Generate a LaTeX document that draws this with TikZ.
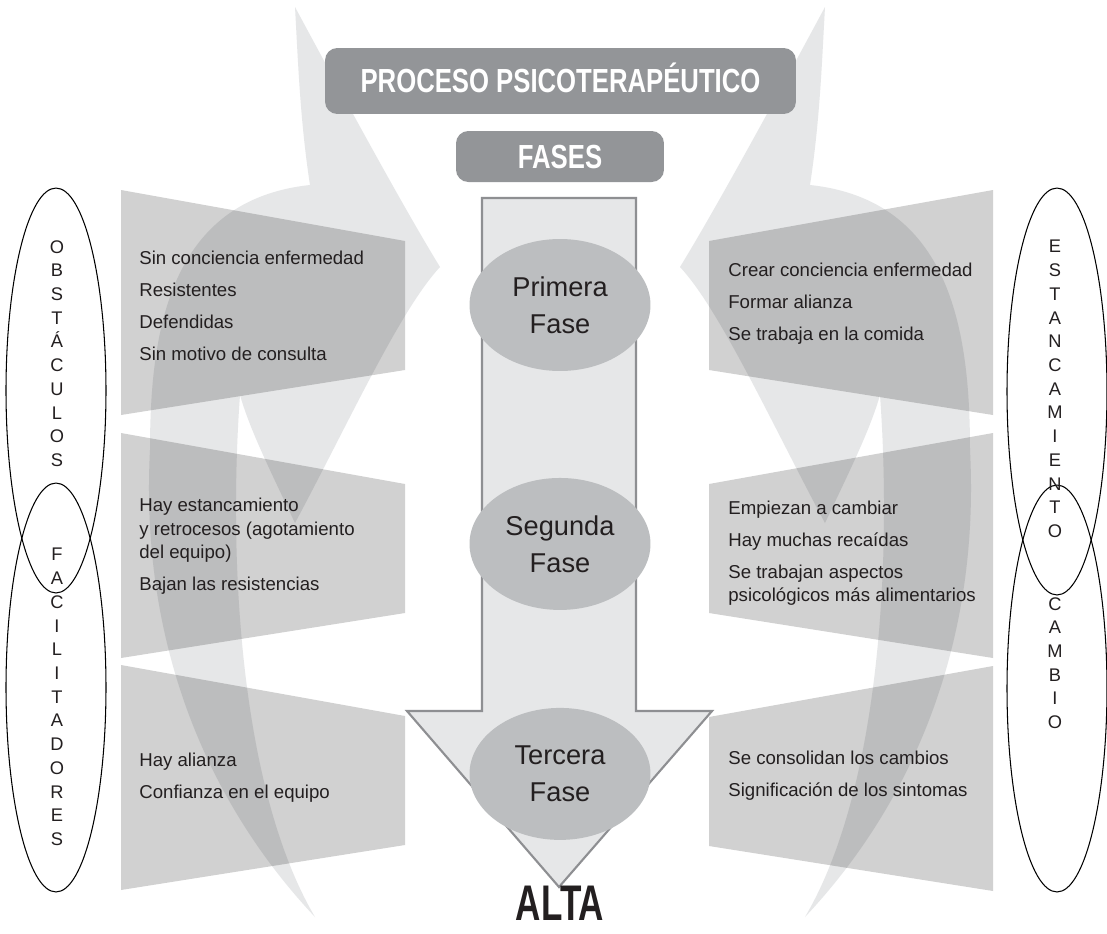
\documentclass[tikz,border=0pt]{standalone}
\usepackage{fontspec}
\setmainfont{Liberation Sans}
\newfontfamily\headfont[FakeStretch=0.77]{Liberation Sans}
\newfontfamily\altafont[FakeStretch=0.7]{Liberation Sans}
\usetikzlibrary{shapes.geometric,positioning}

\definecolor{boxgray}{HTML}{939598}
\definecolor{shaftfill}{HTML}{E6E7E8}
\definecolor{shaftline}{HTML}{8E8F92}
\definecolor{phasegray}{HTML}{BCBEC0}
\definecolor{swoosh}{HTML}{E6E7E8}
\definecolor{ink}{HTML}{231F20}

\tikzset{
  titlebox/.style={fill=boxgray, rounded corners=7pt, text=white, inner sep=0pt,
    font=\headfont\bfseries\fontsize{19}{20}\selectfont, text height=13.6pt, text depth=0pt},
  phase/.style={ellipse, fill=phasegray, minimum width=3.62cm, minimum height=2.64cm,
    inner sep=0pt, align=center, text=ink, font=\fontsize{15.5}{21}\selectfont},
  panel/.style={fill=black, fill opacity=0.18},
  paneltext/.style={anchor=north west, align=left, inner sep=0pt, text=ink,
    font=\fontsize{10.6}{13.3}\selectfont},
  sideoval/.style={ellipse, draw=black, line width=0.6pt, minimum width=2cm, inner sep=0pt},
  letters/.style={anchor=north, align=center, inner sep=0pt, text=ink,
    font=\fontsize{10.4}{13.5}\selectfont},
  shaft/.style={fill=shaftfill, draw=shaftline, line width=1.2pt, line join=miter}
}

\begin{document}
\begin{tikzpicture}[x=0.02cm, y=-0.02cm, on grid, node distance=4.7cm]
\path[use as bounding box, fill=white] (0,0) rectangle (1107,934);

% curved arrows, the right one is the mirror image
\foreach \s/\o in {1/0,-1/1120}{
  \begin{scope}[shift={(\o,0)}, xscale=\s]
    \fill[swoosh] (315,917) .. controls (205,800) and (140,640) .. (150,450)
      .. controls (150,330) and (170,200) .. (310,185)
      .. controls (300,120) and (298,60) .. (295,7)
      .. controls (345,100) and (405,210) .. (440,267)
      .. controls (400,310) and (350,420) .. (295,523)
      .. controls (270,470) and (250,430) .. (240,395)
      .. controls (228,560) and (240,790) .. (315,917) -- cycle;
  \end{scope}
}

% panels
\foreach \t in {190,433,665}
  \fill[panel] (121,\t) -- (405,\t+51) -- (405,\t+180) -- (121,\t+225) -- cycle;
\foreach \t in {190,433,666}
  \fill[panel] (993,\t) -- (709,\t+51) -- (709,\t+180) -- (993,\t+225) -- cycle;

% main arrow
\draw[shaft] (482,198) -- (636,198) -- (636,711) -- (712,711) -- (559,887)
  -- (407,711) -- (482,711) -- cycle;

\node[titlebox, minimum width=9.42cm, minimum height=1.32cm] (title) at (560.5,81) {PROCESO PSICOTERAPÉUTICO};
\node[titlebox, minimum width=4.16cm, minimum height=1.02cm] (fases) at (560,156.5) {FASES};

\node[phase] (ph1) at (560,305) {Primera\\Fase};
\node[phase, below=4.78cm of ph1] (ph2) {Segunda\\Fase};
\node[phase, below=4.6cm of ph2] (ph3) {Tercera\\Fase};

\node[anchor=base, inner sep=0pt, text=ink, font=\altafont\bfseries\fontsize{28.5}{30}\selectfont] (alta) at (560,920) {ALTA};

% left texts
\node[paneltext] (obs1) at (139,251) {Sin conciencia enfermedad\\[4.8pt]Resistentes\\[4.8pt]Defendidas\\[4.8pt]Sin motivo de consulta};
\node[paneltext] (obs2) at (139,498) {Hay estancamiento\\y retrocesos (agotamiento\\del equipo)\\[4.8pt]Bajan las resistencias};
\node[paneltext] (obs3) at (139,753) {Hay alianza\\[4.8pt]Confianza en el equipo};

% right texts
\node[paneltext] (cam1) at (728,263) {Crear conciencia enfermedad\\[4.8pt]Formar alianza\\[4.8pt]Se trabaja en la comida};
\node[paneltext] (cam2) at (728,501) {Empiezan a cambiar\\[4.8pt]Hay muchas recaídas\\[4.8pt]Se trabajan aspectos\\psicológicos más alimentarios};
\node[paneltext] (cam3) at (728,751) {Se consolidan los cambios\\[4.8pt]Significación de los sintomas};

% side ovals
\node[sideoval, minimum height=8.1cm] (obst) at (56,390.5) {};
\node[sideoval, minimum height=8.18cm] (facil) at (56,687.5) {};
\node[sideoval, minimum height=8.14cm] (estanc) at (1057,391.5) {};
\node[sideoval, minimum height=8.14cm] (cambio) at (1057,688.5) {};

\node[letters] (obstxt) at (57,240) {O\\B\\S\\T\\Á\\C\\U\\L\\O\\S};
\node[letters] (faciltxt) at (57,548) {F\\A\\C\\I\\L\\I\\T\\A\\D\\O\\R\\E\\S};
\node[letters] (estanctxt) at (1055,240) {E\\S\\T\\A\\N\\C\\A\\M\\I\\E\\N\\T\\O};
\node[letters] (cambiotxt) at (1055,597) {C\\A\\M\\B\\I\\O};
\end{tikzpicture}
\end{document}
